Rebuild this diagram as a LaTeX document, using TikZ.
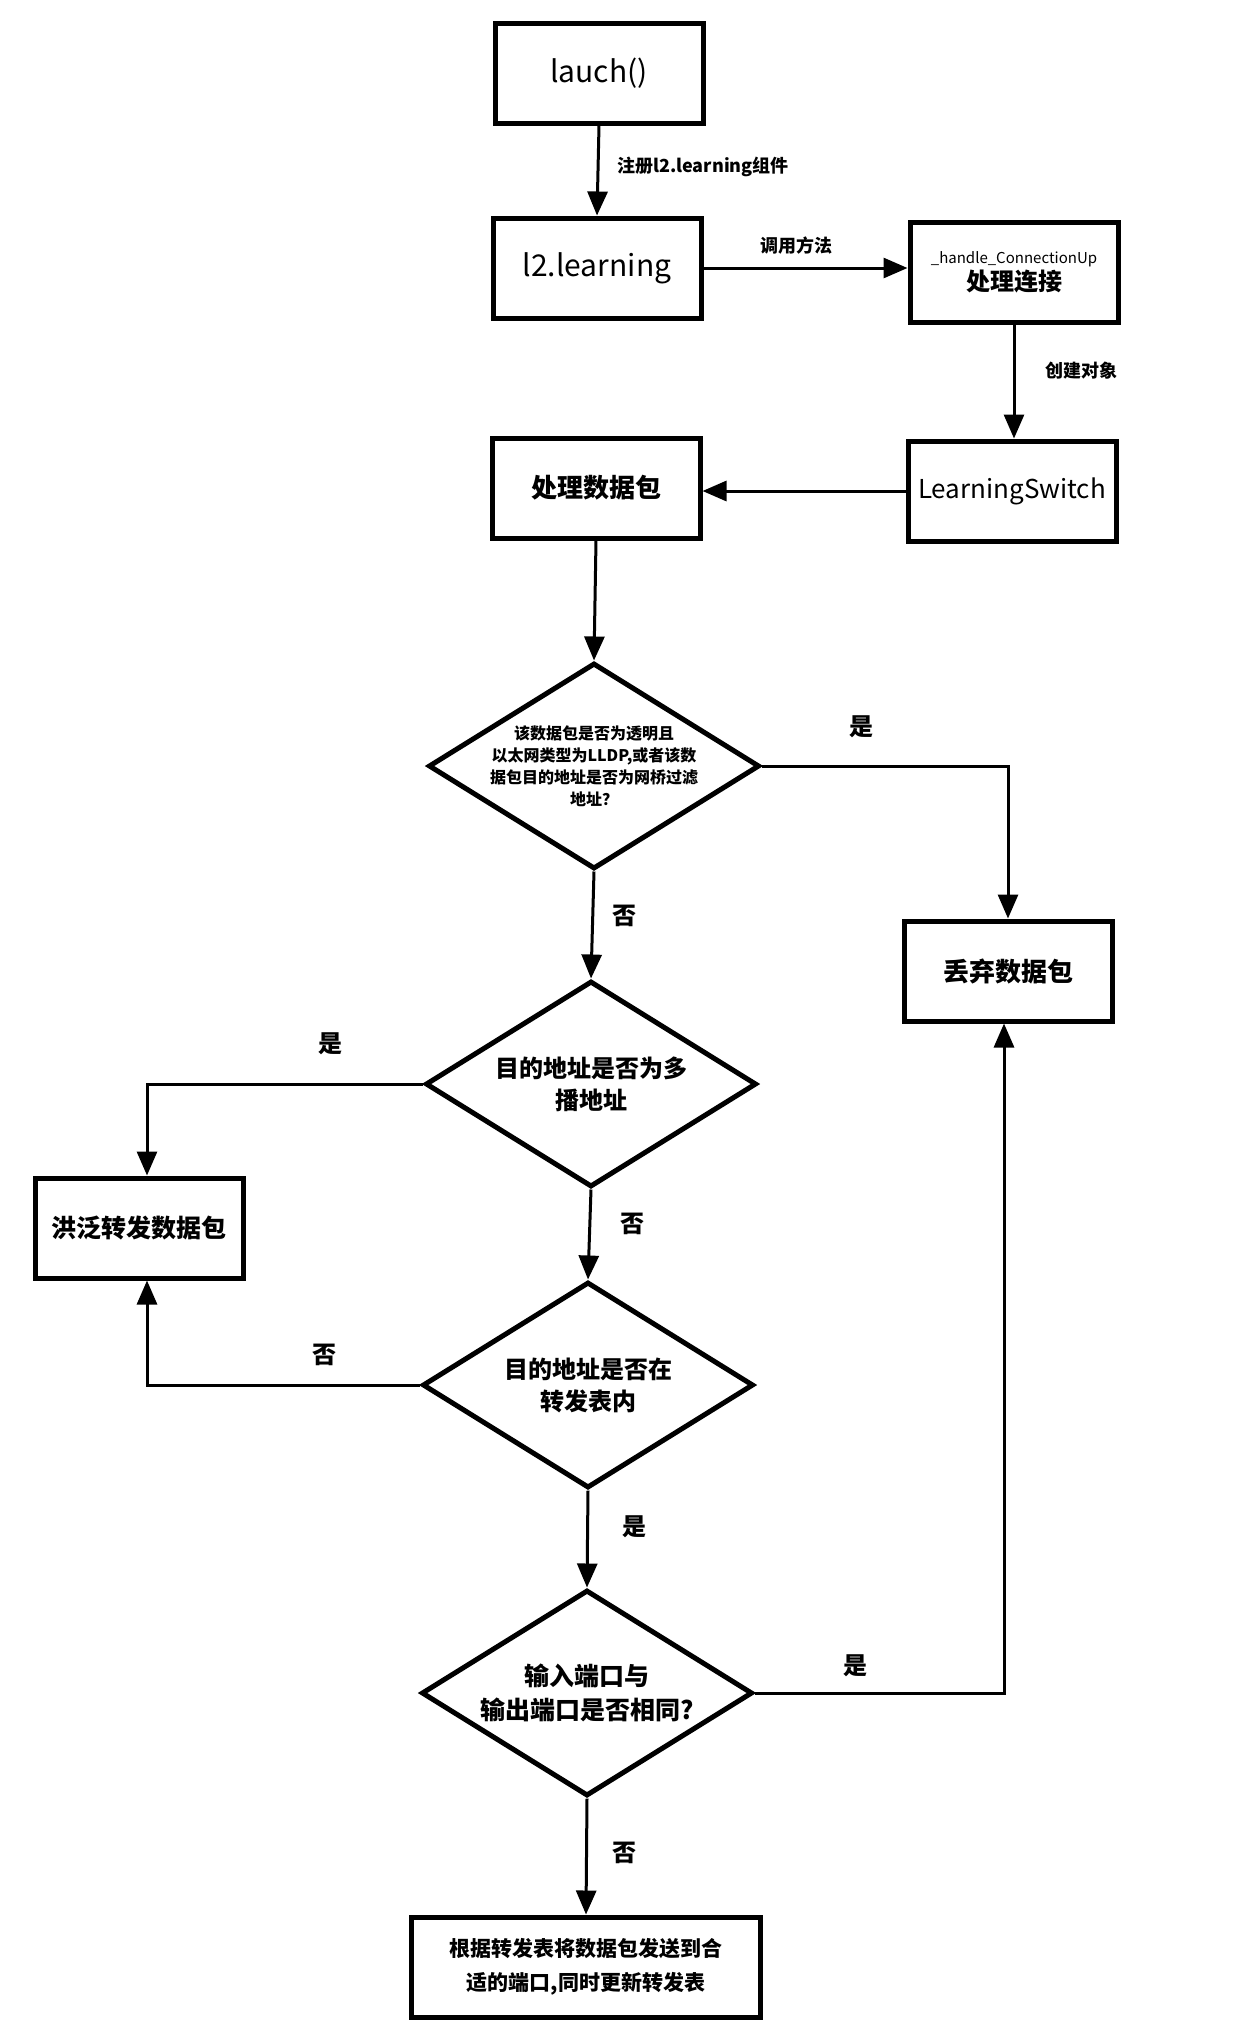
\documentclass[tikz,border=0pt]{standalone}
\usepackage{fontspec}
\setmainfont{Noto Sans CJK SC}
\usetikzlibrary{arrows.meta,shapes.geometric}
\begin{document}
\begin{tikzpicture}[x=1pt,y=-1pt,
  box/.style={draw, line width=5pt, minimum width=#1, minimum height=100pt, inner sep=0pt, align=center},
  box/.default=208pt,
  dia/.style={draw, diamond, line width=5pt, minimum width=331pt, minimum height=206pt, inner sep=0pt},
  dtext/.style={align=center, inner sep=0pt},
  conn/.style={line width=3pt, -{Triangle[length=24pt,width=20pt]}},
  elabel/.style={inner sep=0pt, font=\bfseries\fontsize{18}{22}\selectfont},
  yn/.style={inner sep=0pt, font=\bfseries\fontsize{24}{28}\selectfont}
]
\fill[white] (0,0) rectangle (1237,2043);
\useasboundingbox (0,0) rectangle (1237,2043);

% boxes
\node[box, font=\fontsize{30}{36}\selectfont] (lauch) at (599,73) {lauch()};
\node[box, font=\fontsize{30}{36}\selectfont] (l2) at (597,268) {l2.learning};
\node[box] (handle) at (1014,272) {{\fontsize{15}{20}\selectfont \_handle\_ConnectionUp}\\[2pt]{\bfseries\fontsize{24}{28}\selectfont 处理连接}};
\node[box, font=\fontsize{26}{30}\selectfont] (ls) at (1012,491) {LearningSwitch};
\node[box, font=\bfseries\fontsize{26}{30}\selectfont] (proc) at (596,488) {处理数据包};
\node[box, font=\bfseries\fontsize{26}{30}\selectfont] (drop) at (1008,971) {丢弃数据包};
\node[box, font=\bfseries\fontsize{25}{30}\selectfont] (flood) at (139,1228) {洪泛转发数据包};
\node[box=349pt, font=\bfseries\fontsize{21}{34}\selectfont] (final) at (586,1967) {根据转发表将数据包发送到合\\适的端口,同时更新转发表};

% diamonds
\node[dia] (d1) at (594,766) {};
\node[dtext, font=\bfseries\fontsize{16}{22}\selectfont] (d1t) at (594,766) {该数据包是否为透明且\\以太网类型为LLDP,或者该数\\据包目的地址是否为网桥过滤\\地址？};
\node[dia] (d2) at (591,1084) {};
\node[dtext, font=\bfseries\fontsize{24}{32}\selectfont] (d2t) at (591,1084) {目的地址是否为多\\播地址};
\node[dia] (d3) at (588,1385) {};
\node[dtext, font=\bfseries\fontsize{24}{32}\selectfont] (d3t) at (588,1385) {目的地址是否在\\转发表内};
\node[dia] (d4) at (587,1693) {};
\node[dtext, font=\bfseries\fontsize{25}{34}\selectfont] (d4t) at (587,1693) {输入端口与\\输出端口是否相同?};

% connectors
\draw[conn] (lauch.south) -- (l2.north);
\draw[conn] (l2.east) -- (l2.east -| handle.west);
\draw[conn] (handle.south) -- (handle.south |- ls.north);
\draw[conn] (ls.west) -- (ls.west -| proc.east);
\draw[conn] (proc.south) -- (d1.north);
\draw[conn] (d1.east) -| (drop.north);
\draw[conn] (d1.south) -- (d2.north);
\coordinate (fx) at ([xshift=8pt]flood.north);
\draw[conn] (d2.west) -| (fx);
\draw[conn] (d2.south) -- (d3.north);
\coordinate (fy) at ([xshift=8pt]flood.south);
\draw[conn] (d3.west) -| (fy);
\draw[conn] (d3.south) -- (d4.north);
\coordinate (dy) at ([xshift=-4pt]drop.south);
\draw[conn] (d4.east) -| (dy);
\draw[conn] (d4.south) -- (final.north);

% labels
\node[elabel, anchor=west] (lb1) at (617,167) {注册l2.learning组件};
\node[elabel] (lb2) at (796,246) {调用方法};
\node[elabel] (lb3) at (1081,371) {创建对象};
\node[yn] (y1) at (861,727) {是};
\node[yn] (n1) at (624,916) {否};
\node[yn] (y2) at (330,1044) {是};
\node[yn] (n2) at (632,1224) {否};
\node[yn] (n3) at (324,1355) {否};
\node[yn] (y3) at (634,1527) {是};
\node[yn] (y4) at (855,1666) {是};
\node[yn] (n4) at (624,1853) {否};
\end{tikzpicture}
\end{document}
